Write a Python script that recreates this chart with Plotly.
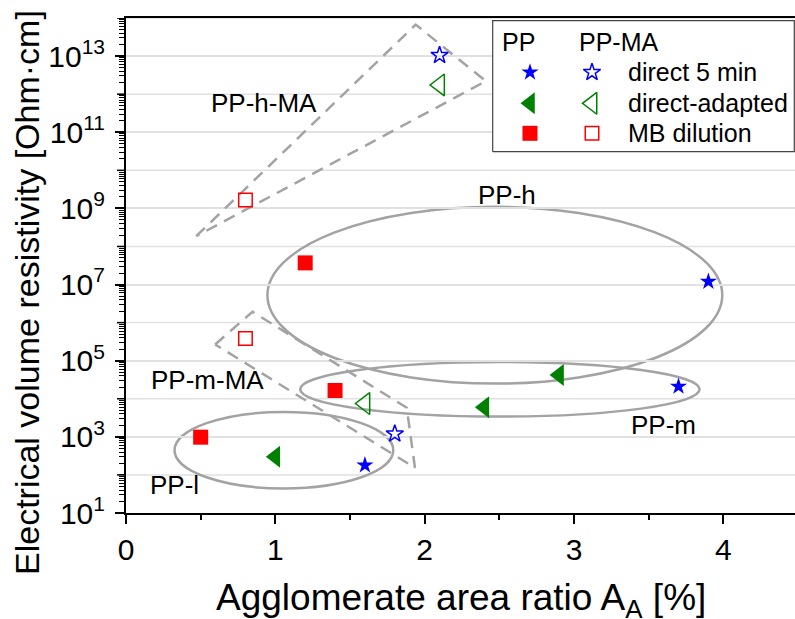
import math
import plotly.graph_objects as go

# ---------------- data ----------------
# PP (filled symbols)
pp_direct_x = [1.6, 3.7, 3.9]
pp_direct_y = [1.8e2, 2.1e4, 1.2e7]
pp_adapted_x = [1.0, 2.4, 2.9]
pp_adapted_y = [3.0e2, 6.0e3, 4.2e4]
pp_mb_x = [0.5, 1.2, 1.4]
pp_mb_y = [9.8e2, 3.7e7, 1.65e4]
# PP-MA (open symbols)
ma_direct_x = [1.8, 2.1]
ma_direct_y = [1.2e3, 1.05e13]
ma_adapted_x = [1.6, 2.1]
ma_adapted_y = [7.5e3, 1.74e12]
ma_mb_x = [0.8, 0.8]
ma_mb_y = [3.8e5, 1.65e9]

# group outlines (ellipses: bounding boxes in data units)
ell_names = ["PP-h", "PP-m", "PP-l"]
ell_x0 = [0.947, 1.166, 0.325]
ell_x1 = [3.993, 3.841, 1.79]
ell_y0 = [2.5e4, 3.4e3, 44]
ell_y1 = [1.1e9, 9.2e4, 4.5e3]

# dashed outlines of PP-MA groups
hma_x = [0.47, 1.94, 2.41, 0.47]
hma_y = [1.86e8, 6.7e13, 2.2e12, 1.86e8]
mma_x = [0.597, 0.847, 1.88, 1.935, 0.597]
mma_y = [2.67e5, 1.93e6, 5.8e3, 1.54e2, 2.67e5]

label_text = ["PP-h-MA", "PP-h", "PP-m-MA", "PP-m", "PP-l"]
label_x = [0.922, 2.549, 0.544, 3.599, 0.328]
label_y = [5.9e11, 2.26e9, 3.03e4, 1.99e3, 54]

y_label_exponents = [1, 3, 5, 7, 9, 11, 13]
y_grid_exponents = [2, 4, 6, 8, 10, 12, 14]
x_ticks = [0, 1, 2, 3, 4]

legend_rows = ["direct 5 min", "direct-adapted", "MB dilution"]

# ---------------- style ----------------
FONT = "Arial, 'Liberation Sans', sans-serif"
BLUE, GREEN, RED = "#0000ff", "#008000", "#ff0000"
GRAY = "#a3a3a3"
GRID = "#e1e1e1"

W, H = 795, 619
ML, MR, MT, MB = 126, 0, 18, 106
PW, PH = W - ML - MR, H - MT - MB

TRI = 19


def px2paper(px, py):
    return (px - ML) / PW, (H - MB - py) / PH


fig = go.Figure()

# extra decade gridlines + ticks (even decades)
for e in y_grid_exponents:
    fig.add_shape(type="line", xref="paper", yref="y", x0=0, x1=1, y0=10 ** e, y1=10 ** e,
                  line=dict(color=GRID, width=1.5), layer="below")
    fig.add_shape(type="line", xref="paper", yref="y", x0=-9 / PW, x1=0, y0=10 ** e, y1=10 ** e,
                  line=dict(color="black", width=1.5), layer="above")

# dashed outlines
for xs, ys in [(hma_x, hma_y), (mma_x, mma_y)]:
    fig.add_trace(go.Scatter(x=xs, y=ys, mode="lines",
                             line=dict(color=GRAY, width=2.5, dash="12px,8px"),
                             hoverinfo="skip", showlegend=False))

series = [
    (pp_direct_x, pp_direct_y, "star", BLUE, 13, 0),
    (pp_adapted_x, pp_adapted_y, "triangle-left", GREEN, TRI, 0),
    (pp_mb_x, pp_mb_y, "square", RED, 15, 0),
    (ma_direct_x, ma_direct_y, "star-open", BLUE, 13, 1.5),
    (ma_adapted_x, ma_adapted_y, "triangle-left-open", GREEN, TRI, 1.5),
    (ma_mb_x, ma_mb_y, "square-open", RED, 13.5, 1.5),
]
for xs, ys, sym, col, size, lw in series:
    fig.add_trace(go.Scatter(x=xs, y=ys, mode="markers",
                             marker=dict(symbol=sym, color=col, size=size,
                                         line=dict(color=col, width=lw)),
                             showlegend=False))

# ellipses
for x0, x1, y0, y1 in zip(ell_x0, ell_x1, ell_y0, ell_y1):
    fig.add_shape(type="circle", xref="x", yref="y", x0=x0, x1=x1, y0=y0, y1=y1,
                  line=dict(color=GRAY, width=2.5), layer="below")

# group labels
for t, x, y in zip(label_text, label_x, label_y):
    fig.add_annotation(x=x, y=math.log10(y), xref="x", yref="y", text=t,
                       showarrow=False, xanchor="center", yanchor="middle",
                       font=dict(family=FONT, size=26, color="black"))

# ---------------- custom legend ----------------
lx0, ly0 = px2paper(492.7, 151.7)
lx1, ly1 = px2paper(794.3, 20.7)
fig.add_trace(go.Scatter(x=[lx0, lx1, lx1, lx0, lx0], y=[ly0, ly0, ly1, ly1, ly0],
                         xaxis="x2", yaxis="y2", mode="lines", fill="toself",
                         fillcolor="white", line=dict(color="#444444", width=1.2),
                         hoverinfo="skip", showlegend=False))

leg_row_py = [72.3, 103.3, 133.3]
leg_sym_pp = [("star", BLUE, 13, 0), ("triangle-left", GREEN, TRI, 0), ("square", RED, 15, 0)]
leg_sym_ma = [("star-open", BLUE, 13, 1.5), ("triangle-left-open", GREEN, TRI, 1.5),
              ("square-open", RED, 13.5, 1.5)]
for i, name in enumerate(legend_rows):
    for (sym, col, size, lw), pxx in [(leg_sym_pp[i], 530), (leg_sym_ma[i], 592)]:
        fx, fy = px2paper(pxx, leg_row_py[i])
        fig.add_trace(go.Scatter(x=[fx], y=[fy], xaxis="x2", yaxis="y2", mode="markers",
                                 marker=dict(symbol=sym, color=col, size=size,
                                             line=dict(color=col, width=lw)),
                                 showlegend=False, hoverinfo="skip"))
    fx, fy = px2paper(626, leg_row_py[i])
    fig.add_annotation(x=fx, y=fy, xref="paper", yref="paper", text=name, showarrow=False,
                       xanchor="left", yanchor="middle",
                       font=dict(family=FONT, size=25, color="black"))
for t, pxx in [("PP", 500), ("PP-MA", 577)]:
    fx, fy = px2paper(pxx, 42.5)
    fig.add_annotation(x=fx, y=fy, xref="paper", yref="paper", text=t, showarrow=False,
                       xanchor="left", yanchor="middle",
                       font=dict(family=FONT, size=25, color="black"))

# axis titles
fx, fy = px2paper(460.5, 574.5)
fig.add_annotation(x=fx, y=fy, xref="paper", yref="paper",
                   text="Agglomerate area ratio A<sub>A</sub> [%]", showarrow=False,
                   xanchor="center", yanchor="top",
                   font=dict(family=FONT, size=37, color="black"))
fx, fy = px2paper(27, 293)
fig.add_annotation(x=fx, y=fy, xref="paper", yref="paper",
                   text="Electrical volume resistivity [Ohm\u00b7cm]", showarrow=False,
                   textangle=-90, xanchor="center", yanchor="middle",
                   font=dict(family=FONT, size=34, color="black"))

tickvals = [10 ** e for e in y_label_exponents]
ticktext = [f"10<sup>{e}</sup>" for e in y_label_exponents]

fig.update_layout(
    width=W, height=H,
    margin=dict(l=ML, r=MR, t=MT, b=MB, pad=0, autoexpand=False),
    paper_bgcolor="white", plot_bgcolor="white",
    showlegend=False,
    font=dict(family=FONT, size=30, color="black"),
    xaxis=dict(range=[0, 4.48], tickmode="array", tickvals=x_ticks, automargin=False,
               ticks="outside", ticklen=9, tickwidth=1.5, tickcolor="black",
               minor=dict(ticks="outside", ticklen=5, tickwidth=1.5, tickcolor="black",
                          dtick=0.5, tick0=0, showgrid=False),
               showgrid=False, zeroline=False,
               showline=True, linecolor="black", linewidth=2, mirror=True,
               tickfont=dict(family=FONT, size=30, color="black")),
    yaxis=dict(type="log", range=[1, 14], tickmode="array", tickvals=tickvals,
               ticktext=ticktext, automargin=False,
               ticks="outside", ticklen=9, tickwidth=1.5, tickcolor="black",
               minor=dict(ticks="outside", ticklen=5, tickwidth=1, tickcolor="black",
                          dtick="D1", showgrid=False),
               showgrid=True, gridcolor=GRID, gridwidth=1.5, zeroline=False,
               showline=True, linecolor="black", linewidth=2,
               ticklabelstandoff=4,
               tickfont=dict(family=FONT, size=30, color="black")),
    xaxis2=dict(overlaying="x", range=[0, 1], visible=False, fixedrange=True),
    yaxis2=dict(overlaying="y", range=[0, 1], visible=False, fixedrange=True),
)

fig.write_html("out.html", config={"displayModeBar": False},
               post_script="document.body.style.margin='0';document.body.style.padding='0';"
                           "document.body.style.overflow='hidden';")
